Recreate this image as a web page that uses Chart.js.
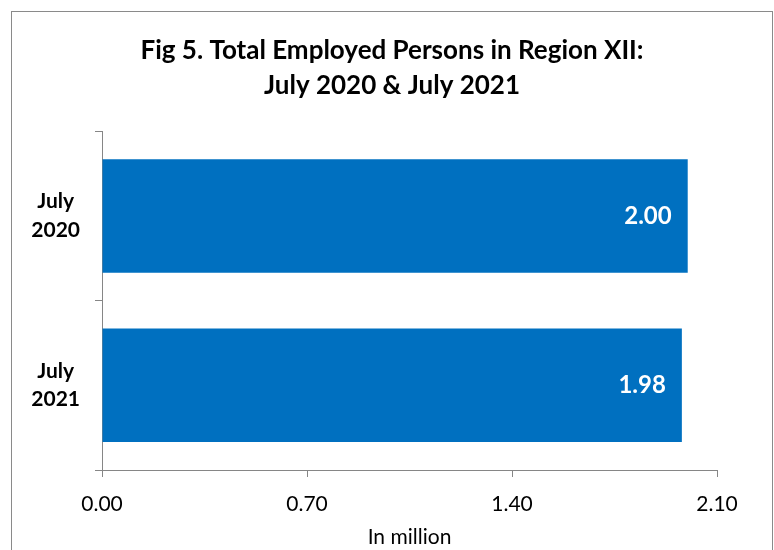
<!DOCTYPE html>
<html>
<head>
<meta charset="utf-8">
<script src="https://cdn.jsdelivr.net/npm/chart.js@4"></script>
<style>
  html, body { margin: 0; padding: 0; background: #fff; }
  #wrap { width: 774px; height: 550px; position: relative; }
</style>
</head>
<body>
<div id="wrap"><canvas id="chart"></canvas></div>
<script>
// Data
const categories = [["July", "2020"], ["July", "2021"]];
const employed = [2.0, 1.98];
const xTicks = [0, 0.7, 1.4, 2.1];

const FONT = "Lato, 'Open Sans', sans-serif";
const AXIS_GRAY = "#868686";

// Outer frame around the whole chart, like the spreadsheet chart border
const framePlugin = {
  id: "frame",
  beforeDraw(chart) {
    const ctx = chart.ctx;
    ctx.save();
    ctx.strokeStyle = "#8a8a8a";
    ctx.lineWidth = 1;
    ctx.strokeRect(11.5, 11.5, 761, 560);
    ctx.restore();
  },
};

// Value labels inside the end of each bar
const barLabels = {
  id: "barLabels",
  afterDatasetsDraw(chart) {
    const ctx = chart.ctx;
    const meta = chart.getDatasetMeta(0);
    ctx.save();
    ctx.fillStyle = "#ffffff";
    ctx.font = "bold 24px " + FONT;
    ctx.textAlign = "right";
    ctx.textBaseline = "middle";
    meta.data.forEach((bar, i) => {
      ctx.fillText(employed[i].toFixed(2), bar.x - 16, bar.y);
    });
    ctx.restore();
  },
};

new Chart(document.getElementById("chart"), {
  type: "bar",
  data: {
    labels: categories,
    datasets: [
      {
        data: employed,
        backgroundColor: "#0070C0",
        borderWidth: 0,
        categoryPercentage: 1,
        barPercentage: 0.67,
      },
    ],
  },
  options: {
    indexAxis: "y",
    responsive: true,
    maintainAspectRatio: false,
    animation: false,
    layout: {
      padding: { left: 10, right: 0, top: 0, bottom: 0 },
    },
    plugins: {
      legend: { display: false },
      tooltip: { enabled: false },
      title: {
        display: true,
        text: ["Fig 5. Total Employed Persons in Region XII:", "July 2020 & July 2021"],
        color: "#000",
        font: { family: FONT, size: 26, weight: "bold", lineHeight: 1.35 },
        padding: { top: 33, bottom: 28 },
      },
    },
    scales: {
      x: {
        min: 0,
        max: 2.1,
        afterFit: (scale) => {
          scale.height = 80;
        },
        afterBuildTicks: (scale) => {
          scale.ticks = xTicks.map((v) => ({ value: v }));
        },
        grid: {
          drawOnChartArea: false,
          drawTicks: true,
          tickLength: 7,
          color: AXIS_GRAY,
        },
        border: { display: true, color: AXIS_GRAY },
        ticks: {
          color: "#000",
          padding: 15,
          maxRotation: 0,
          font: { family: FONT, size: 21 },
          callback: (v) => Number(v).toFixed(2),
        },
        title: {
          display: true,
          text: "In million",
          color: "#000",
          font: { family: FONT, size: 21 },
          padding: { top: 4, bottom: 0 },
        },
      },
      y: {
        afterFit: (scale) => {
          scale.width = 92;
        },
        grid: {
          offset: true,
          drawOnChartArea: false,
          drawTicks: true,
          tickLength: 7,
          color: AXIS_GRAY,
        },
        border: { display: true, color: AXIS_GRAY },
        ticks: {
          color: "#000",
          crossAlign: "center",
          padding: 15,
          font: { family: FONT, size: 21, weight: "bold", lineHeight: 1.35 },
        },
      },
      // empty right-hand spacer so the plot ends at 2.10 while the title stays centred
      spacer: {
        axis: "y",
        type: "linear",
        position: "right",
        afterFit: (scale) => {
          scale.width = 57;
        },
        grid: { display: false },
        border: { display: false },
        ticks: { display: false },
      },
    },
  },
  plugins: [framePlugin, barLabels],
});
</script>
</body>
</html>
